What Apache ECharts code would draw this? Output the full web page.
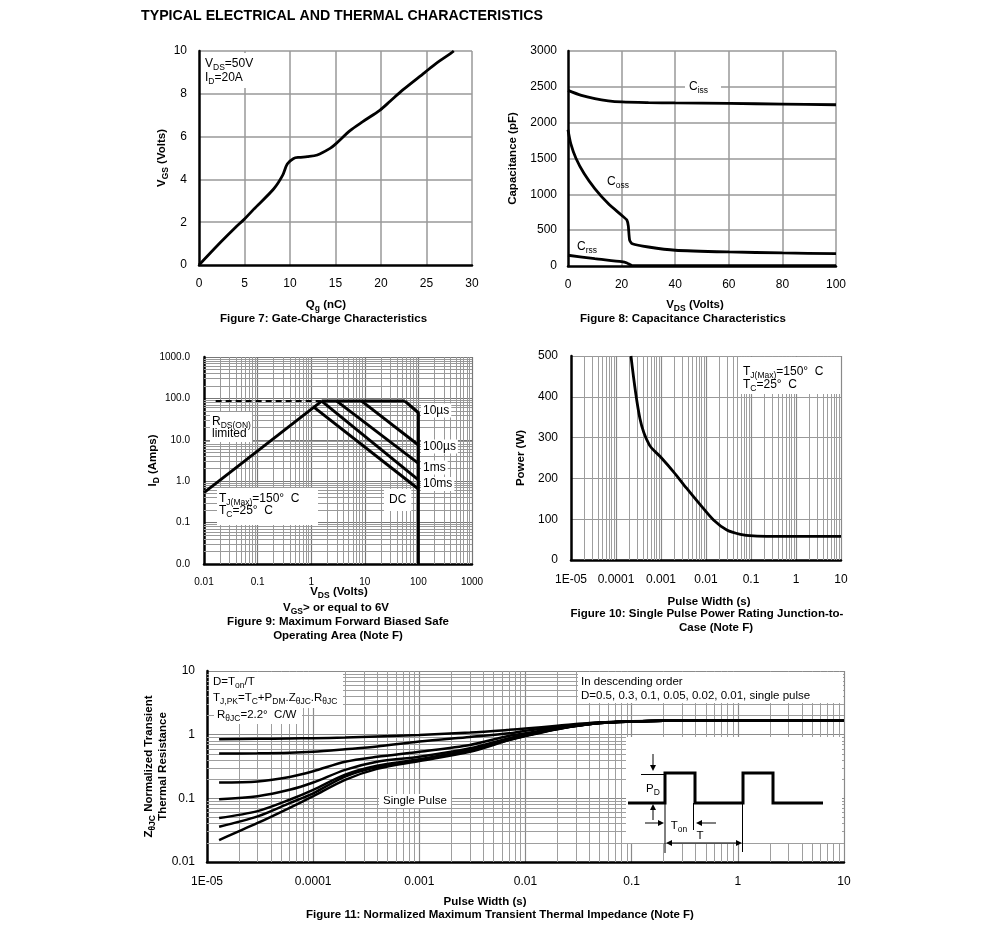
<!DOCTYPE html>
<html>
<head>
<meta charset="utf-8">
<script src="https://cdn.jsdelivr.net/npm/echarts@6/dist/echarts.min.js"></script>
<style>html,body{margin:0;padding:0;background:#fff}#c{width:991px;height:942px}</style>
</head>
<body>
<div id="c"></div>
<script>
// ---------------- DATA ----------------
// Figure 7: Gate charge
const gateQg  = [0, 2, 4, 5, 6, 8.2, 9.2, 9.7, 10.4, 11, 11.9, 13, 14.4, 15, 16.6, 18, 19.9, 21, 22.4, 24.8, 26, 27.7, 28];
const gateVgs = [0, 0.9, 1.75, 2.15, 2.6, 3.55, 4.2, 4.72, 4.98, 5.03, 5.06, 5.14, 5.45, 5.65, 6.28, 6.7, 7.24, 7.65, 8.18, 8.99, 9.4, 9.9, 10];
// Figure 8: Capacitance
const cissV = [0, 5, 10, 15, 20, 30, 40, 60, 80, 100];
const cissC = [2450, 2380, 2335, 2305, 2290, 2280, 2275, 2268, 2260, 2250];
const cossV = [0, 1, 3, 6, 10, 15, 20, 22, 22.5, 23, 24, 30, 40, 60, 80, 100];
const cossC = [1900, 1710, 1500, 1290, 1080, 871, 708, 640, 560, 360, 310, 265, 220, 196, 182, 172];
const crssV = [0, 10, 20, 22, 24, 40, 60, 80, 100];
const crssC = [150, 102, 60, 42, 5, 5, 5, 5, 5];
// Figure 9: SOA
const soaRdsV = [0.01, 1.57];   const soaRdsI = [0.53, 86];
const soaDashV = [0.0165, 1.57]; const soaDashI = [86, 86];
const soaTopV = [1.57, 56];     const soaTopI = [86, 86];
const soa10usV = [56, 100, 100]; const soa10usI = [86, 45, 0.01];
const soa100usV = [8.75, 100];  const soa100usI = [86, 7.5];
const soa1msV = [3.0, 100];     const soa1msI = [86, 2.7];
const soa10msV = [1.57, 100];   const soa10msI = [86, 1.08];
const soaDcV = [1.15, 100];     const soaDcI = [60, 0.65];
// Figure 10: single pulse power
const pwrT = [2.15e-4, 3.4e-4, 5.5e-4, 9.7e-4, 1.9e-3, 3.7e-3, 7.5e-3, 1.47e-2, 2.9e-2, 5.8e-2, 0.114, 0.3, 1, 10];
const pwrP = [500, 347, 282, 253, 216, 176, 135, 98, 73.5, 63, 59, 58, 58, 58];
// Figure 11: transient thermal impedance
const zthT = [1.3e-5, 3e-5, 6e-5, 1e-4, 2e-4, 4e-4, 1e-3, 3e-3, 7e-3, 0.01, 0.02, 0.05, 0.1, 0.2, 10];
const zthD050 = [0.85, 0.86, 0.87, 0.88, 0.9, 0.94, 0.99, 1.08, 1.19, 1.25, 1.38, 1.56, 1.63, 1.66, 1.66];
const zthD030 = [0.506, 0.51, 0.52, 0.54, 0.59, 0.65, 0.78, 0.92, 1.05, 1.15, 1.32, 1.54, 1.62, 1.66, 1.66];
const zthD010 = [0.177, 0.184, 0.216, 0.266, 0.376, 0.45, 0.54, 0.69, 0.96, 1.05, 1.28, 1.52, 1.61, 1.66, 1.66];
const zthD005 = [0.097, 0.108, 0.136, 0.177, 0.28, 0.376, 0.45, 0.61, 0.88, 1.0, 1.25, 1.52, 1.61, 1.66, 1.66];
const zthD002 = [0.049, 0.063, 0.095, 0.136, 0.236, 0.326, 0.41, 0.58, 0.85, 0.97, 1.24, 1.52, 1.61, 1.66, 1.66];
const zthD001 = [0.0358, 0.052, 0.084, 0.12, 0.22, 0.31, 0.40, 0.56, 0.83, 0.96, 1.23, 1.52, 1.61, 1.66, 1.66];
const zthSingle = [0.0221, 0.041, 0.071, 0.108, 0.195, 0.29, 0.385, 0.54, 0.82, 0.95, 1.22, 1.52, 1.61, 1.66, 1.66];
// minor log grid digits and decades
const minorDigits = [2, 3, 4, 5, 6, 7, 8, 9];
const soaDecades = [0.01, 0.1, 1, 10, 100];
const pulseDecades = [1e-5, 1e-4, 1e-3, 1e-2, 1e-1, 1];
const zthDecades = [0.01, 0.1, 1];

// ---------------- HELPERS ----------------
const F = "'Liberation Sans', Arial, Helvetica, sans-serif";
const zip = (xs, ys) => xs.map((x, i) => [x, ys[i]]);

function curve(gi, xs, ys, extra) {
  return Object.assign({
    type: 'line', xAxisIndex: gi, yAxisIndex: gi, data: zip(xs, ys),
    symbol: 'none', showSymbol: false, silent: true, animation: false, z: 3,
    lineStyle: { color: '#000', width: 2.5 }
  }, extra || {});
}
function vLines(decades, y0, y1) {
  const out = [];
  decades.forEach(d => minorDigits.forEach(m => { const x = m * d; out.push({ coords: [[x, y0], [x, y1]] }); }));
  return out;
}
function hLines(decades, x0, x1) {
  const out = [];
  decades.forEach(d => minorDigits.forEach(m => { const y = m * d; out.push({ coords: [[x0, y], [x1, y]] }); }));
  return out;
}
function gridSeries(gi, data, color) {
  return { type: 'lines', coordinateSystem: 'cartesian2d', xAxisIndex: gi, yAxisIndex: gi, data,
    polyline: false, silent: true, animation: false, z: 1,
    lineStyle: { color: color || '#a3a3a3', width: 1, opacity: 1 } };
}
const axisNameRich = {
  n: { color: '#000', fontFamily: F, fontSize: 11.5, fontWeight: 'bold', lineHeight: 14 },
  s: { color: '#000', fontFamily: F, fontSize: 8.5, fontWeight: 'bold', lineHeight: 9, padding: [7, 0, 0, 0] }
};
function valAxis(gi, min, max, interval, size, margin, extra) {
  return Object.assign({
    gridIndex: gi, type: 'value', min, max, interval,
    axisLine: { show: true, onZero: false, lineStyle: { color: '#000', width: 2.5 } },
    axisTick: { show: false },
    axisLabel: { fontFamily: F, fontSize: size, color: '#000', margin, formatter: v => String(v) },
    splitLine: { show: true, showMinLine: false, lineStyle: { color: '#999', width: 1.5 } }
  }, extra || {});
}
function logAxis(gi, min, max, size, margin, fmt, extra) {
  return Object.assign({
    gridIndex: gi, type: 'log', logBase: 10, min, max,
    axisLine: { show: true, onZero: false, lineStyle: { color: '#000', width: 2.5 } },
    axisTick: { show: false },
    axisLabel: { fontFamily: F, fontSize: size, color: '#000', margin, formatter: fmt },
    splitLine: { show: true, showMinLine: false, lineStyle: { color: '#8a8a8a', width: 1.2 } }
  }, extra || {});
}
function yName(name, gap) {
  return { name, nameLocation: 'middle', nameGap: gap, nameMoveOverlap: false, nameTextStyle: { rich: axisNameRich } };
}
const fmtPlain = v => String(parseFloat(v.toPrecision(3)));
const fmtPulse = v => (v < 5e-5 ? '1E-05' : String(parseFloat(v.toPrecision(3))));
const fmtFixed1 = v => v.toFixed(1);

// graphic helpers
const gRich = (size, bold) => ({
  n: { fill: '#000', fontFamily: F, fontSize: size, fontWeight: bold ? 'bold' : 'normal', lineHeight: 14 },
  s: { fill: '#000', fontFamily: F, fontSize: 8.5, fontWeight: bold ? 'bold' : 'normal', lineHeight: 9, padding: [7, 0, 0, 0] }
});
function txt(x, y, text, o) {
  o = o || {};
  const size = o.size || 12, bold = !!o.bold, align = o.align || 'left';
  const style = { text, fill: '#000', fontFamily: F, fontSize: size, fontWeight: bold ? 'bold' : 'normal',
    align, textAlign: align, verticalAlign: 'middle', textVerticalAlign: 'middle', rich: gRich(size, bold) };
  if (o.bg) { style.backgroundColor = '#fff'; style.padding = o.pad || [1, 2]; }
  return { type: 'text', x, y, z: 22, silent: true, style };
}
function rect(x, y, w, h) {
  return { type: 'rect', shape: { x, y, width: w, height: h }, style: { fill: '#fff' }, z: 15, silent: true };
}
function seg(x1, y1, x2, y2, w) {
  return { type: 'line', shape: { x1, y1, x2, y2 }, style: { stroke: '#000', lineWidth: w || 1 }, z: 21, silent: true };
}
function tri(pts) {
  return { type: 'polygon', shape: { points: pts }, style: { fill: '#000' }, z: 21, silent: true };
}
const SM = 0.3;

// ---------------- OPTION ----------------
const option = {
  animation: false,
  backgroundColor: '#fff',
  grid: [
    { left: 199, top: 51, width: 273, height: 214, outerBoundsMode: 'none' },
    { left: 568, top: 51, width: 268, height: 215, outerBoundsMode: 'none' },
    { left: 204, top: 357, width: 268, height: 207, outerBoundsMode: 'none' },
    { left: 571, top: 356, width: 270, height: 204, outerBoundsMode: 'none' },
    { left: 207, top: 671, width: 637, height: 191, outerBoundsMode: 'none' }
  ],
  xAxis: [
    valAxis(0, 0, 30, 5, 12, 13),
    valAxis(1, 0, 100, 20, 12, 13),
    logAxis(2, 0.01, 1000, 10, 13, fmtPlain, { splitLine: { show: true, showMinLine: false, lineStyle: { color: '#777', width: 1.2 } } }),
    logAxis(3, 1e-5, 10, 12, 14, fmtPulse),
    logAxis(4, 1e-5, 10, 12, 14, fmtPulse)
  ],
  yAxis: [
    valAxis(0, 0, 10, 2, 12, 12, yName('{n|V}{s|GS}{n| (Volts)}', 30)),
    valAxis(1, 0, 3000, 500, 12, 11, yName('{n|Capacitance (pF)}', 48)),
    logAxis(2, 0.01, 1000, 10, 14, fmtFixed1, Object.assign(yName('{n|I}{s|D}{n| (Amps)}', 44),
      { splitLine: { show: true, showMinLine: false, lineStyle: { color: '#777', width: 1.2 } } })),
    valAxis(3, 0, 500, 100, 12, 13, Object.assign(yName('{n|Power (W)}', 43),
      { splitLine: { show: true, showMinLine: false, lineStyle: { color: '#999', width: 1.2 } } })),
    logAxis(4, 0.01, 10, 12, 12, fmtPlain, yName('{n|Z}{s|θJC}{n| Normalized Transient}\n{n|Thermal Resistance}', 37))
  ],
  series: [
    // minor log grid lines
    gridSeries(2, vLines(soaDecades, 0.01, 1000), '#999'),
    gridSeries(2, hLines(soaDecades, 0.01, 1000), '#999'),
    gridSeries(3, vLines(pulseDecades, 0, 500), '#9e9e9e'),
    gridSeries(4, vLines(pulseDecades, 0.01, 10), '#9e9e9e'),
    gridSeries(4, hLines(zthDecades, 1e-5, 10), '#9e9e9e'),
    // Figure 7
    curve(0, gateQg, gateVgs, { smooth: SM, lineStyle: { color: '#000', width: 2.8 } }),
    // Figure 8
    curve(1, cissV, cissC, { smooth: SM, lineStyle: { color: '#000', width: 2.8 } }),
    curve(1, cossV, cossC, { smooth: 0.2, lineStyle: { color: '#000', width: 2.8 } }),
    curve(1, crssV, crssC, { smooth: 0.2, lineStyle: { color: '#000', width: 2.8 } }),
    // Figure 9
    curve(2, soaRdsV, soaRdsI, { lineStyle: { color: '#000', width: 3 } }),
    curve(2, soaDashV, soaDashI, { lineStyle: { color: '#000', width: 2, type: [6, 4] } }),
    curve(2, soaTopV, soaTopI, { lineStyle: { color: '#000', width: 3 } }),
    curve(2, soa10usV, soa10usI, { lineStyle: { color: '#000', width: 3 } }),
    curve(2, soa100usV, soa100usI, { lineStyle: { color: '#000', width: 3 } }),
    curve(2, soa1msV, soa1msI, { lineStyle: { color: '#000', width: 3 } }),
    curve(2, soa10msV, soa10msI, { lineStyle: { color: '#000', width: 3 } }),
    curve(2, soaDcV, soaDcI, { lineStyle: { color: '#000', width: 3 } }),
    // Figure 10
    curve(3, pwrT, pwrP, { smooth: SM, lineStyle: { color: '#000', width: 2.8 } }),
    // Figure 11
    curve(4, zthT, zthD050, { smooth: SM }),
    curve(4, zthT, zthD030, { smooth: SM }),
    curve(4, zthT, zthD010, { smooth: SM }),
    curve(4, zthT, zthD005, { smooth: SM }),
    curve(4, zthT, zthD002, { smooth: SM }),
    curve(4, zthT, zthD001, { smooth: SM }),
    curve(4, zthT, zthSingle, { smooth: SM })
  ],
  graphic: { elements: [
    // page title
    txt(141, 16, 'TYPICAL ELECTRICAL AND THERMAL CHARACTERISTICS', { size: 14.2, bold: true }),

    // Figure 7
    rect(201, 53, 50, 35),
    txt(205, 64, '{n|V}{s|DS}{n|=50V}'),
    txt(205, 78, '{n|I}{s|D}{n|=20A}'),
    txt(326, 305, '{n|Q}{s|g}{n| (nC)}', { bold: true, size: 11.5, align: 'center' }),
    txt(323.5, 319, 'Figure 7: Gate-Charge Characteristics', { bold: true, size: 11.5, align: 'center' }),

    // Figure 8
    rect(685, 80, 36, 16),
    txt(689, 87, '{n|C}{s|iss}'),
    txt(607, 182, '{n|C}{s|oss}'),
    txt(577, 247, '{n|C}{s|rss}'),
    txt(695, 305, '{n|V}{s|DS}{n| (Volts)}', { bold: true, size: 11.5, align: 'center' }),
    txt(683, 319, 'Figure 8: Capacitance Characteristics', { bold: true, size: 11.5, align: 'center' }),

    // Figure 9
    rect(210, 412, 42, 30),
    txt(212, 422, '{n|R}{s|DS(ON)}'),
    txt(212, 434, '{n|limited}'),
    txt(421, 410.5, '10µs', { bg: true }),
    txt(421, 446.5, '100µs', { bg: true }),
    txt(421, 467.5, '1ms', { bg: true }),
    txt(421, 484, '10ms', { bg: true }),
    txt(384, 500, 'DC', { bg: true, pad: [5, 5] }),
    rect(217, 488, 101, 37),
    txt(219, 499, '{n|T}{s|J(Max)}{n|=150°  C}'),
    txt(219, 511, '{n|T}{s|C}{n|=25°  C}'),
    txt(339, 592, '{n|V}{s|DS}{n| (Volts)}', { bold: true, size: 11.5, align: 'center' }),
    txt(336, 608, '{n|V}{s|GS}{n|> or equal to 6V}', { bold: true, size: 11.5, align: 'center' }),
    txt(338, 622, 'Figure 9: Maximum Forward Biased Safe', { bold: true, size: 11.5, align: 'center' }),
    txt(338, 636, 'Operating Area (Note F)', { bold: true, size: 11.5, align: 'center' }),

    // Figure 10
    rect(739, 357, 101, 37),
    txt(743, 372, '{n|T}{s|J(Max)}{n|=150°  C}'),
    txt(743, 385, '{n|T}{s|C}{n|=25°  C}'),
    txt(709, 602, 'Pulse Width (s)', { bold: true, size: 11.5, align: 'center' }),
    txt(707, 614, 'Figure 10: Single Pulse Power Rating Junction-to-', { bold: true, size: 11.5, align: 'center' }),
    txt(716, 628, 'Case (Note F)', { bold: true, size: 11.5, align: 'center' }),

    // Figure 11
    rect(209, 672, 134, 36),
    rect(214, 708, 88, 16),
    txt(213, 682, '{n|D=T}{s|on}{n|/T}', { size: 11.5 }),
    txt(213, 698, '{n|T}{s|J,PK}{n|=T}{s|C}{n|+P}{s|DM}{n|.Z}{s|θJC}{n|.R}{s|θJC}', { size: 11.5 }),
    txt(217, 715, '{n|R}{s|θJC}{n|=2.2°  C/W}', { size: 11.5 }),
    rect(578, 672, 265, 31),
    txt(581, 682, 'In descending order', { size: 11.5 }),
    txt(581, 696, 'D=0.5, 0.3, 0.1, 0.05, 0.02, 0.01, single pulse', { size: 11.5 }),
    txt(379, 801, 'Single Pulse', { size: 11.5, bg: true, pad: [1, 4] }),
    // inset pulse diagram
    rect(626, 737, 216, 106),
    { type: 'polyline', shape: { points: [[628, 803], [665, 803], [665, 773], [695, 773], [695, 803], [743, 803], [743, 773], [773, 773], [773, 803], [823, 803]] },
      style: { stroke: '#000', lineWidth: 3, fill: null }, z: 21, silent: true },
    seg(641, 774.5, 665, 774.5, 1),
    seg(653, 754, 653, 767, 1), tri([[650, 765], [656, 765], [653, 771]]),
    seg(653, 820, 653, 808, 1), tri([[650, 810], [656, 810], [653, 804]]),
    seg(665, 803, 665, 853, 1),
    seg(693.5, 803, 693.5, 830, 1),
    seg(742.5, 803, 742.5, 852, 1),
    seg(645, 823, 659, 823, 1), tri([[658, 820], [658, 826], [664, 823]]),
    seg(716, 823, 701, 823, 1), tri([[702, 820], [702, 826], [696, 823]]),
    seg(671, 843, 737, 843, 1), tri([[672, 840], [672, 846], [666, 843]]), tri([[736, 840], [736, 846], [742, 843]]),
    txt(653, 789, '{n|P}{s|D}', { size: 11.5, align: 'center' }),
    txt(679, 826, '{n|T}{s|on}', { size: 11.5, align: 'center' }),
    txt(700, 836, 'T', { size: 11.5, align: 'center' }),
    txt(485, 902, 'Pulse Width (s)', { bold: true, size: 11.5, align: 'center' }),
    txt(500, 915, 'Figure 11: Normalized Maximum Transient Thermal Impedance (Note F)', { bold: true, size: 11.5, align: 'center' })
  ] }
};

const chart = echarts.init(document.getElementById('c'), null, { renderer: 'canvas', width: 991, height: 942 });
chart.setOption(option);
</script>
</body>
</html>
